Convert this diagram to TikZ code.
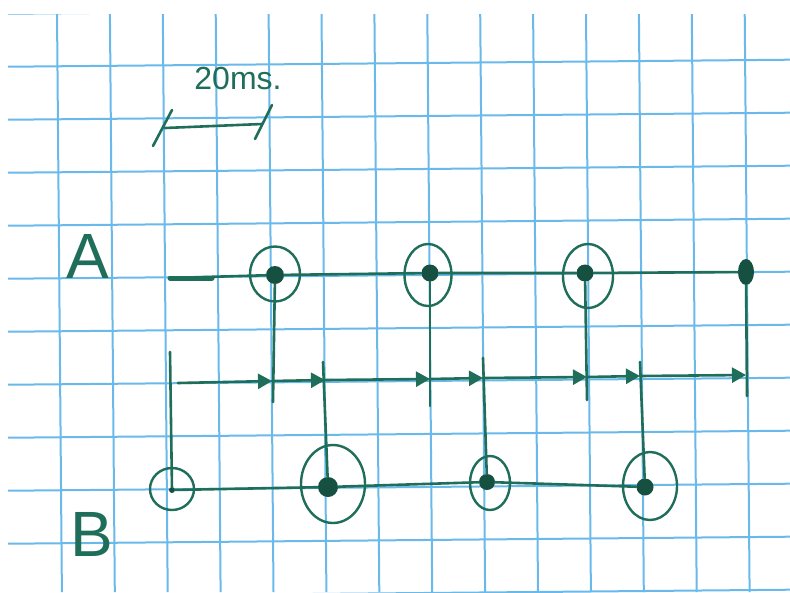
\documentclass[tikz,border=0pt]{standalone}
\usepackage{fontspec}
\setmainfont{Liberation Sans}
\usetikzlibrary{arrows.meta,shapes.geometric}
\definecolor{gridblue}{RGB}{105,185,235}
\definecolor{ink}{RGB}{30,110,90}
\definecolor{dotink}{RGB}{22,80,65}
\begin{document}
\begin{tikzpicture}[x=1pt,y=-1pt,
  gridline/.style={draw=gridblue,line width=2pt},
  inkline/.style={draw=ink,line width=2.6pt,line cap=round},
  ring/.style={ellipse,draw=ink,line width=2.4pt,inner sep=0pt},
  spot/.style={circle,fill=dotink,inner sep=0pt,minimum size=18pt},
  tri/.style={-{Triangle[length=14pt,width=15pt]}},
  biglabel/.style={text=ink,font=\fontsize{64}{64}\selectfont,inner sep=0pt},
  scaletext/.style={text=ink,font=\fontsize{32}{32}\selectfont,inner sep=0pt}]
\useasboundingbox (0,0) rectangle (790,592);
\fill[white] (0,0) rectangle (790,592);
% graph paper
\begin{scope}
\clip (8,14) rectangle (790,592);
\foreach \k in {1,...,14}{
  \draw[gridline] ({6.3+52.9*\k-2.3},0) -- ({6.3+52.9*\k+2.7},592);
}
\foreach \k in {0,...,11}{
  \draw[gridline] (0,{12+53*\k+1.8}) -- (790,{12+53*\k-5.3});
}
\end{scope}
% scale bar
\coordinate (s1) at (165,128);
\coordinate (s2) at (262,124);
\coordinate (t1a) at (153,146);
\coordinate (t1b) at (172,110);
\coordinate (t2a) at (255,139);
\coordinate (t2b) at (272,105);
\draw[inkline] (s1) -- (s2);
\draw[inkline] (t1a) -- (t1b);
\draw[inkline] (t2a) -- (t2b);
\node[scaletext] (scl) at (238,78) {20ms.};
% labels
\node[biglabel] (lA) at (88,256) {A};
\node[biglabel] (lB) at (92,534) {B};
% row A
\node[ring,minimum width=50pt,minimum height=55pt] (ca1) at (275,274) {};
\node[ring,minimum width=47pt,minimum height=62pt] (ca2) at (428,275) {};
\node[ring,minimum width=50pt,minimum height=64pt] (ca3) at (588,276) {};
\node[spot] (a1) at (275,275) {};
\node[spot,minimum size=17pt] (a2) at (430,273) {};
\node[spot,minimum size=17pt] (a3) at (585,273) {};
\node[ellipse,fill=dotink,inner sep=0pt,minimum width=16pt,minimum height=26pt] (a4) at (746,272) {};
\coordinate (a0) at (170,278);
\coordinate (a0t) at (212,278);
\draw[inkline,line width=5pt] (a0) -- (a0t);
\draw[inkline] (a0) -- (a1) -- (a2) -- (a3) -- (a4);
% middle time line
\coordinate (m0) at (178,383);
\coordinate (m1) at (272,381);
\coordinate (m2) at (325,380);
\coordinate (m3) at (430,379);
\coordinate (m4) at (483,378);
\coordinate (m5) at (587,377);
\coordinate (m6) at (640,376);
\coordinate (m7) at (746,375);
\draw[inkline,tri] (m0) -- (m1);
\draw[inkline,tri] (m1) -- (m2);
\draw[inkline,tri] (m2) -- (m3);
\draw[inkline,tri] (m3) -- (m4);
\draw[inkline,tri] (m4) -- (m5);
\draw[inkline,tri] (m5) -- (m6);
\draw[inkline,tri] (m6) -- (m7);
% drops from A
\coordinate (d1) at (273,402);
\coordinate (d2) at (430,406);
\coordinate (d3) at (587,400);
\coordinate (d4) at (747,396);
\draw[inkline] (a1) -- (d1);
\draw[inkline] (a2) -- (d2);
\draw[inkline] (a3) -- (d3);
\draw[inkline] (a4) -- (d4);
% row B
\node[ring,minimum width=44pt,minimum height=42pt] (cb1) at (172,489) {};
\node[ring,minimum width=64pt,minimum height=78pt] (cb2) at (333,484) {};
\node[ring,minimum width=40pt,minimum height=54pt] (cb3) at (490,483) {};
\node[ring,minimum width=54pt,minimum height=68pt] (cb4) at (650,486) {};
\node[spot,minimum size=6pt] (b1) at (172,490) {};
\node[spot,minimum size=20pt] (b2) at (328,487) {};
\node[spot,minimum size=16pt] (b3) at (487,482) {};
\node[spot,minimum size=17pt] (b4) at (645,487) {};
\draw[inkline] (b1) -- (b2) -- (b3) -- (b4);
% rises to B
\coordinate (u1) at (170,352);
\coordinate (u2) at (323,362);
\coordinate (u3) at (483,358);
\coordinate (u4) at (640,362);
\draw[inkline] (u1) -- (b1);
\draw[inkline] (u2) -- (b2);
\draw[inkline] (u3) -- (b3);
\draw[inkline] (u4) -- (b4);
\end{tikzpicture}
\end{document}
